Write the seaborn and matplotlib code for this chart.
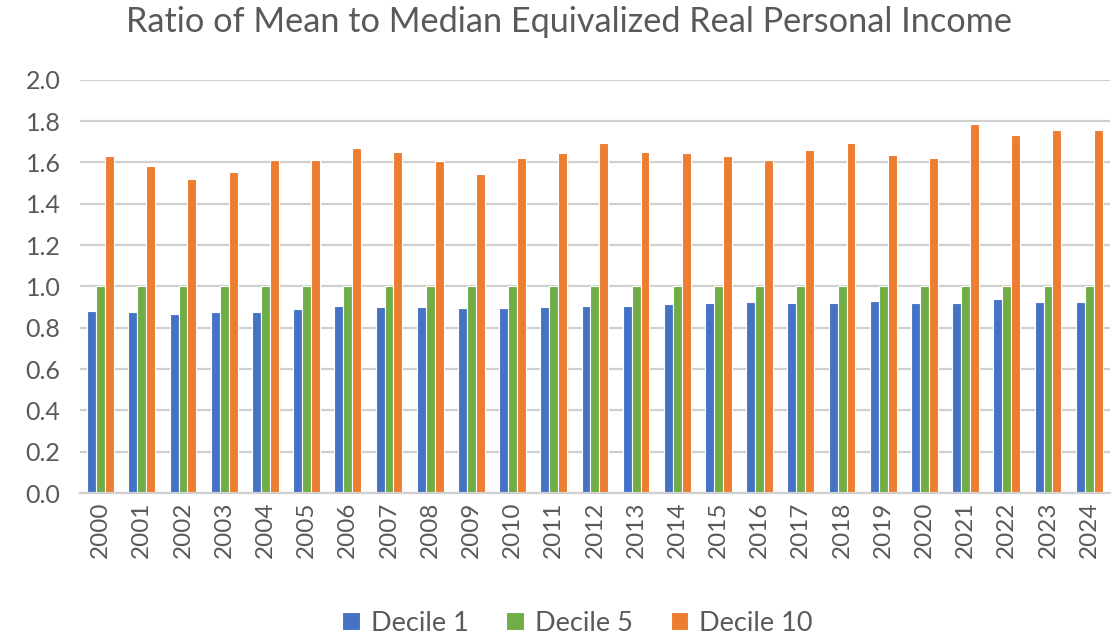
import pandas as pd
import numpy as np
import matplotlib.pyplot as plt
import seaborn as sns

years = [str(y) for y in range(2000, 2025)]
decile_1 = [0.882, 0.876, 0.865, 0.876, 0.876, 0.889, 0.906, 0.900, 0.900, 0.894,
            0.894, 0.900, 0.906, 0.906, 0.913, 0.918, 0.924, 0.918, 0.918, 0.930,
            0.918, 0.918, 0.937, 0.924, 0.924]
decile_5 = [1.0] * 25
decile_10 = [1.630, 1.584, 1.520, 1.555, 1.613, 1.613, 1.672, 1.650, 1.608, 1.544,
             1.621, 1.645, 1.692, 1.650, 1.645, 1.632, 1.614, 1.661, 1.692, 1.637,
             1.619, 1.786, 1.733, 1.756, 1.756]
series = ['Decile 1', 'Decile 5', 'Decile 10']
colors = ['#4472C4', '#70AD47', '#ED7D31']

df = pd.DataFrame({
    'Year': years * 3,
    'Ratio': decile_1 + decile_5 + decile_10,
    'Series': [s for s in series for _ in years],
})

sns.set_theme(style='white')
plt.rcParams['font.family'] = ['Lato', 'DejaVu Sans']
text_gray = '#595959'

fig = plt.figure(figsize=(11.12, 6.43), dpi=100)
ax = fig.add_axes([0.072, 0.233, 0.926, 0.643])

sns.barplot(data=df, x='Year', y='Ratio', hue='Series', palette=colors,
            width=0.65, saturation=1, edgecolor='white', linewidth=0.8, ax=ax)

ax.set_ylim(0, 2.0)
ax.set_xlim(-0.5, 24.5)
ax.set_yticks(np.arange(0, 2.01, 0.2))
ax.set_yticklabels([f'{v:.1f}' for v in np.arange(0, 2.01, 0.2)])
ax.yaxis.grid(True, color='#D0D0D0', linewidth=1.6)
ax.set_axisbelow(True)
for s in ['top', 'right', 'left']:
    ax.spines[s].set_visible(False)
ax.spines['bottom'].set_color('#D0D0D0')
ax.spines['bottom'].set_linewidth(1.6)
ax.tick_params(axis='x', rotation=90, labelsize=17.5, colors=text_gray, length=0, pad=6)
ax.tick_params(axis='y', labelsize=18, colors=text_gray, length=0, pad=14)
ax.set_xlabel('')
ax.set_ylabel('')

fig.suptitle('Ratio of Mean to Median Equivalized Real Personal Income',
             fontsize=24.7, color=text_gray, x=0.512, y=0.99)

ax.legend(loc='upper center', bbox_to_anchor=(0.483, -0.225), ncol=3, frameon=False,
          fontsize=19.5, labelcolor=text_gray, handlelength=0.65, handleheight=0.65,
          columnspacing=1.4, handletextpad=0.4)

fig.savefig('out.png', dpi=100)
